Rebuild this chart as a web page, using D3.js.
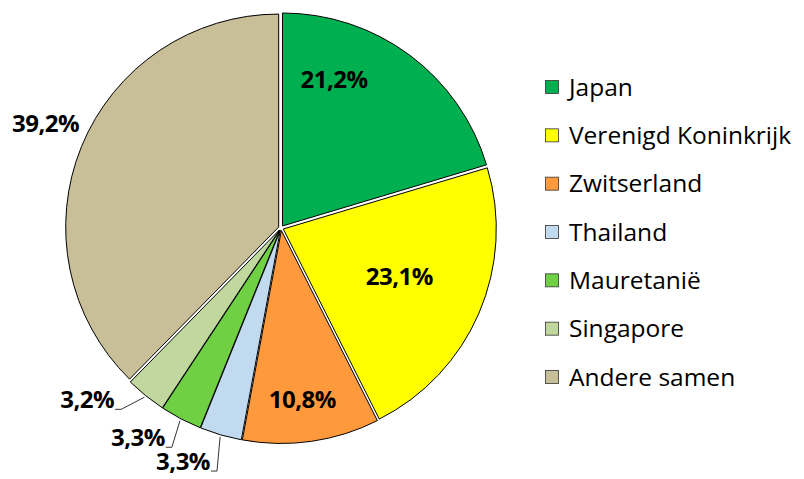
<!DOCTYPE html>
<html>
<head>
<meta charset="utf-8">
<script src="https://cdn.jsdelivr.net/npm/d3@7"></script>
<style>
  body { margin: 0; background: #fff; }
  text { font-family: "Open Sans", Lato, sans-serif; }
</style>
</head>
<body>
<div id="chart"></div>
<script>
// data
const landen = ["Japan", "Verenigd Koninkrijk", "Zwitserland", "Thailand", "Mauretanië", "Singapore", "Andere samen"];
const aandeel = [21.2, 23.1, 10.8, 3.3, 3.3, 3.2, 39.2];
const labels = ["21,2%", "23,1%", "10,8%", "3,3%", "3,3%", "3,2%", "39,2%"];
const kleuren = ["#00B050", "#FFFF00", "#FF9A3C", "#C2DAF0", "#6FD044", "#C0D89E", "#C8BE98"];

// label placement: angle shift (deg), radius factor, leader line or not
const plaats = [
    {da: -17, rf: 0.74, lijn: false},
    {da: -1, rf: 0.60, lijn: false},
    {da: 1, rf: 0.81, lijn: false},
    {da: -1.5, rf: 1.18, lijn: true},
    {da: -1.2, rf: 1.15, lijn: true},
    {da: 2.5, rf: 1.135, lijn: true},
    {da: 1.8, rf: 1.21, lijn: false}
];

const W = 804, H = 479;
const cx = 281, cy = 228, R = 213, explode = 2.5;

const svg = d3.select("#chart").append("svg")
    .attr("width", W)
    .attr("height", H);

const pie = d3.pie().sort(null).value(d => d);
const arcs = pie(aandeel);
const arc = d3.arc().innerRadius(0).outerRadius(R);

const polar = (a, r) => [cx + r * Math.sin(a), cy - r * Math.cos(a)];

const g = svg.append("g");

// slices, each pushed out a little like the original
g.selectAll("path.slice")
    .data(arcs)
    .join("path")
    .attr("class", "slice")
    .attr("d", arc)
    .attr("transform", d => {
        const m = (d.startAngle + d.endAngle) / 2;
        const p = polar(m, explode);
        return `translate(${p[0]},${p[1]})`;
    })
    .attr("fill", (d, i) => kleuren[i])
    .attr("stroke", "#000")
    .attr("stroke-width", 1);

// data labels
arcs.forEach((d, i) => {
    const m = (d.startAngle + d.endAngle) / 2;
    const pl = plaats[i];
    const a = m + pl.da * Math.PI / 180;
    const p = polar(a, R * pl.rf);
    if (pl.lijn) {
        const start = polar(m, R + explode + 2);
        svg.append("path")
            .attr("d", d3.line()([start, p, [p[0] - 6, p[1]]]))
            .attr("fill", "none")
            .attr("stroke", "#000")
            .attr("stroke-width", 0.8);
        svg.append("text")
            .attr("x", p[0] - 7)
            .attr("y", p[1] - 1)
            .attr("text-anchor", "end")
            .attr("font-size", 24)
            .attr("font-weight", "bold")
            .attr("letter-spacing", -0.5)
            .text(labels[i]);
    } else {
        svg.append("text")
            .attr("x", p[0])
            .attr("y", p[1] + 8.5)
            .attr("text-anchor", "middle")
            .attr("font-size", 24)
            .attr("font-weight", "bold")
            .attr("letter-spacing", -0.5)
            .text(labels[i]);
    }
});

// legend
const legY = d3.scalePoint().domain(landen).range([87, 377]);
const leg = svg.append("g").selectAll("g")
    .data(landen)
    .join("g")
    .attr("transform", d => `translate(545,${legY(d)})`);

leg.append("rect")
    .attr("x", 0.5)
    .attr("y", -6.5)
    .attr("width", 13)
    .attr("height", 13)
    .attr("fill", (d, i) => kleuren[i])
    .attr("stroke", "#333")
    .attr("stroke-width", 0.8);

leg.append("text")
    .attr("x", 24)
    .attr("y", 8.5)
    .attr("font-size", 24.5)
    .attr("fill", "#000")
    .text(d => d);
</script>
</body>
</html>
